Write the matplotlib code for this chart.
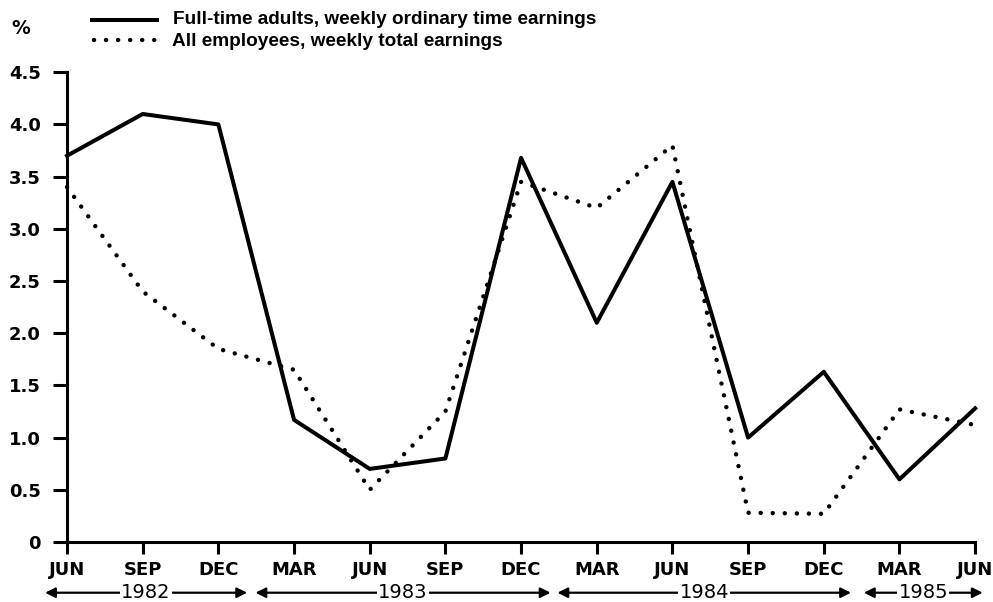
import matplotlib.pyplot as plt
from matplotlib.lines import Line2D
from matplotlib.transforms import blended_transform_factory

plt.rcParams["font.family"] = ["DejaVu Sans"]

# -----------------------
# Data
# -----------------------
quarters = ["JUN", "SEP", "DEC", "MAR", "JUN", "SEP", "DEC",
            "MAR", "JUN", "SEP", "DEC", "MAR", "JUN"]
full_time = [3.70, 4.10, 4.00, 1.17, 0.70, 0.80, 3.68,
             2.10, 3.45, 1.00, 1.63, 0.60, 1.28]
all_employees = [3.40, 2.40, 1.85, 1.65, 0.50, 1.25, 3.45,
                 3.20, 3.80, 0.28, 0.27, 1.27, 1.12]
years = ["1982", "1983", "1984", "1985"]
year_spans = [(-0.29, 2.38), (2.49, 6.39), (6.48, 10.36), (10.53, 12.1)]
y_ticks = [0, 0.5, 1.0, 1.5, 2.0, 2.5, 3.0, 3.5, 4.0, 4.5]
y_labels = ["0", "0.5", "1.0", "1.5", "2.0", "2.5", "3.0", "3.5", "4.0", "4.5"]

x = list(range(len(quarters)))

DOTS = (0, (0.01, 2.7))

fig = plt.figure(figsize=(9.93, 6.02), dpi=100)
ax = fig.add_axes([0.0675, 0.0997, 0.9145, 0.7803])

ax.plot(x, full_time, color="black", lw=2.9, clip_on=False)
ax.plot(x, all_employees, color="black", lw=3.2, linestyle=DOTS,
        dash_capstyle="round", clip_on=False)

ax.set_xlim(0, 12)
ax.set_ylim(0, 4.5)
ax.set_xticks(x)
ax.set_xticklabels(quarters)
ax.set_yticks(y_ticks)
ax.set_yticklabels(y_labels)

for side in ["top", "right"]:
    ax.spines[side].set_visible(False)
for side in ["left", "bottom"]:
    ax.spines[side].set_linewidth(2.2)

ax.tick_params(axis="both", width=2.2, direction="out", labelsize=13)
ax.tick_params(axis="x", length=8.5, pad=5)
ax.tick_params(axis="y", length=10, pad=9)
for lab in ax.get_xticklabels() + ax.get_yticklabels():
    lab.set_fontweight("bold")

# year bands under the month labels
trans = blended_transform_factory(ax.transData, ax.transAxes)
for yr, (x0, x1) in zip(years, year_spans):
    ax.annotate("", xy=(x0, -0.108), xytext=(x1, -0.108), xycoords=trans,
                textcoords=trans,
                arrowprops=dict(arrowstyle="<|-|>", color="black", lw=1.6,
                                mutation_scale=15, shrinkA=0, shrinkB=0))
    ax.text((x0 + x1) / 2, -0.108, yr, transform=trans, ha="center", va="center",
            fontsize=14, bbox=dict(facecolor="white", edgecolor="none", pad=1.0))

# legend drawn by hand at the top
fig.add_artist(Line2D([92 / 993, 157 / 993], [1 - 20 / 602, 1 - 20 / 602],
                      color="black", lw=2.9))
fig.add_artist(Line2D([94 / 993, 160 / 993], [1 - 40 / 602, 1 - 40 / 602],
                      color="black", lw=3.2, linestyle=DOTS,
                      dash_capstyle="round"))
fig.text(173 / 993, 1 - 20 / 602, "Full-time adults, weekly ordinary time earnings",
         fontsize=13.7, va="center", fontweight="bold", family="Liberation Sans")
fig.text(172 / 993, 1 - 41 / 602, "All employees, weekly total earnings",
         fontsize=13.7, va="center", fontweight="bold", family="Liberation Sans")
fig.text(11 / 993, 1 - 29 / 602, "%", fontsize=13.5, va="center", fontweight="bold")

fig.savefig("out.png", dpi=100)
